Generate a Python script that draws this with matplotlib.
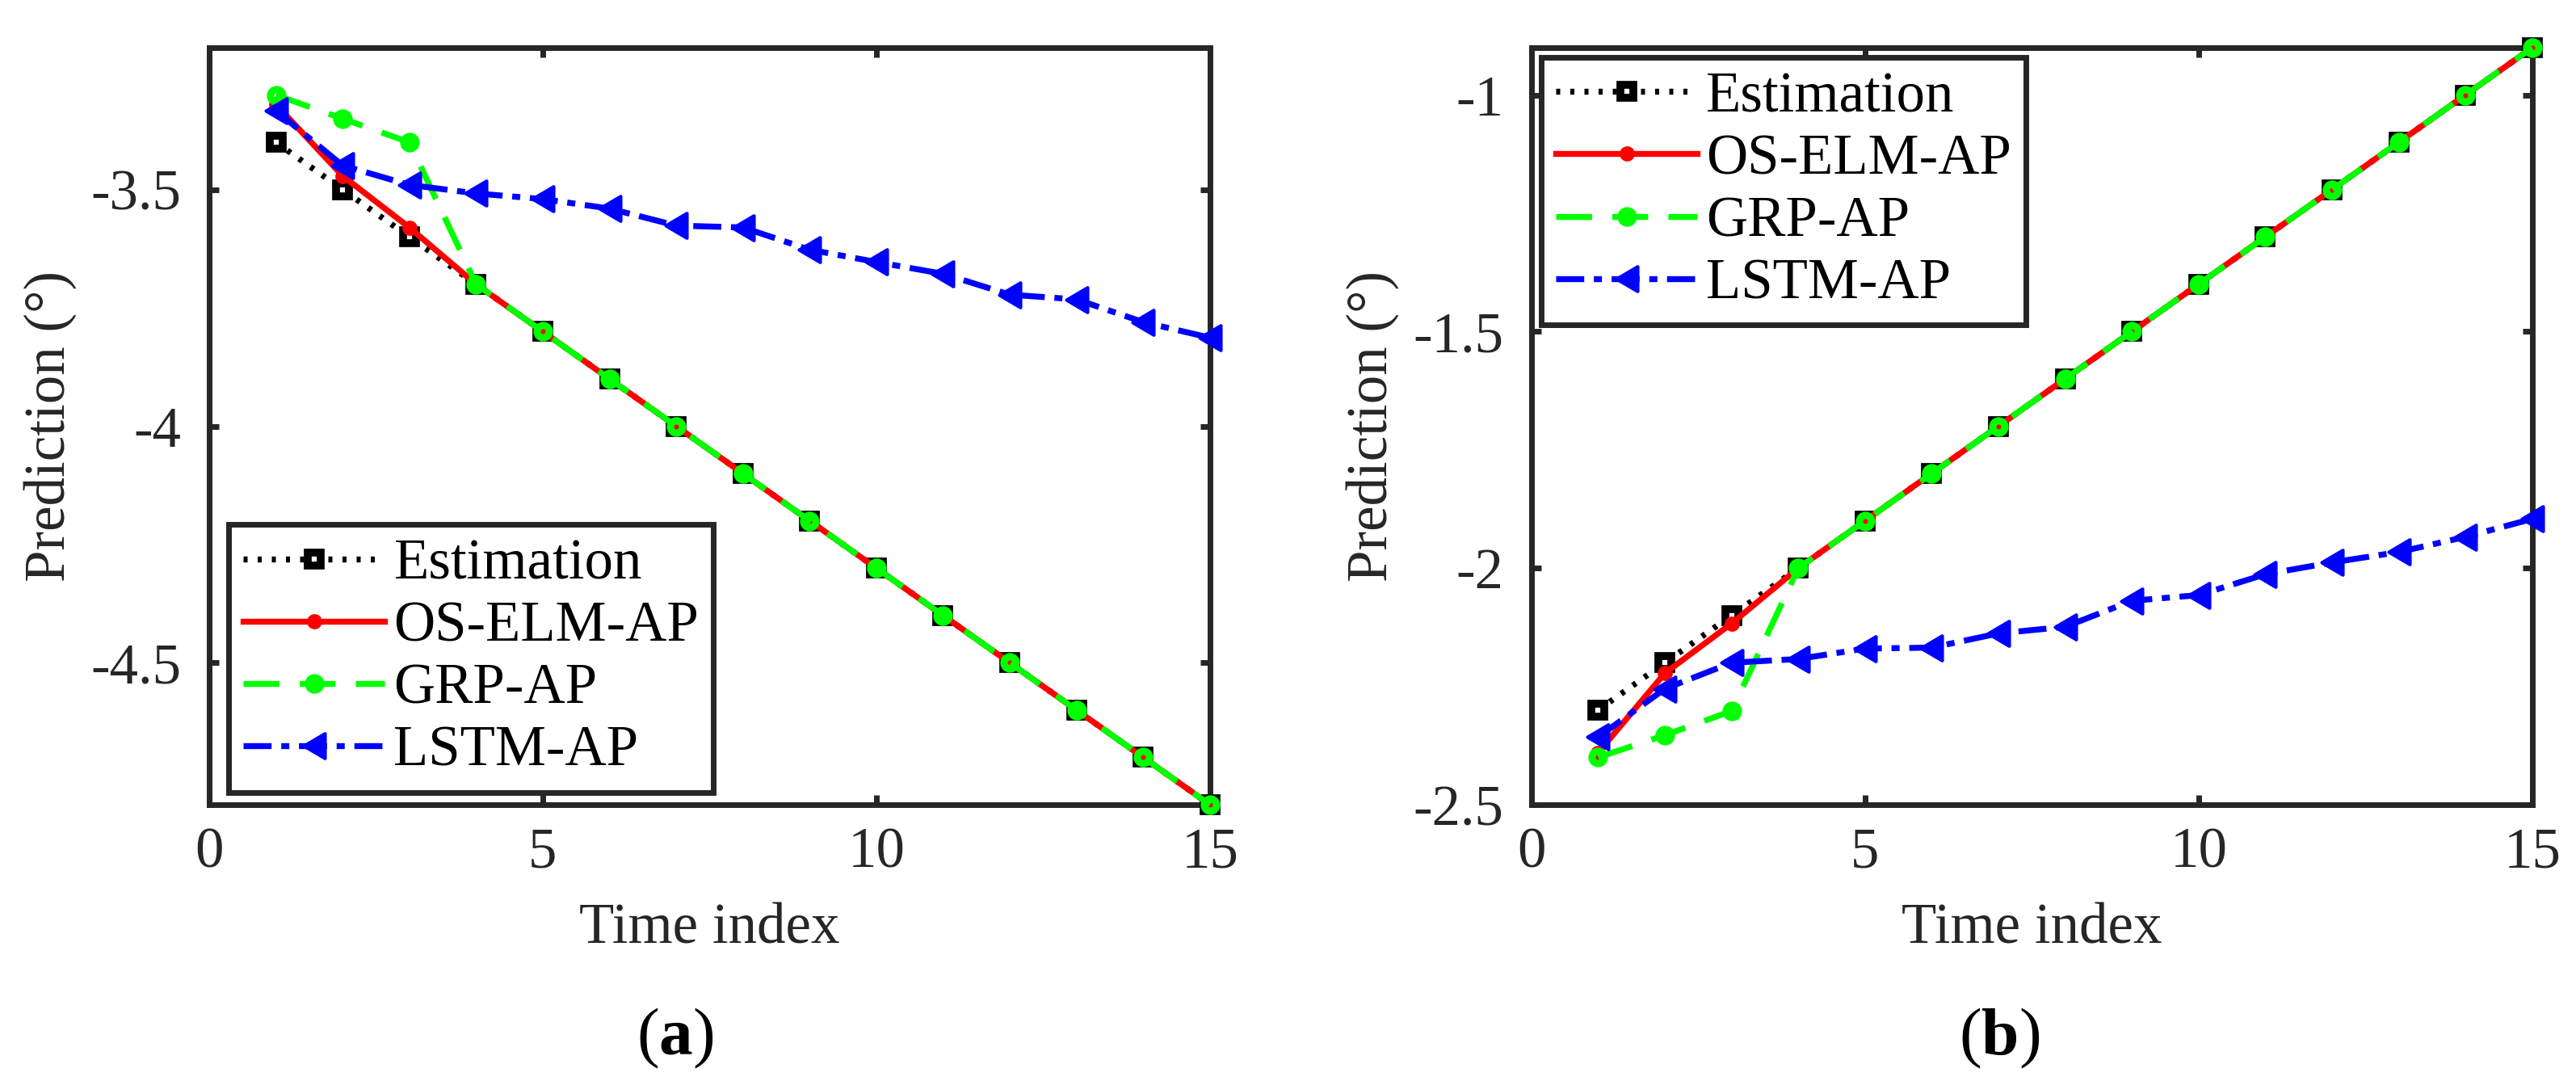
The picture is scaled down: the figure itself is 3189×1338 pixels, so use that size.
import matplotlib
matplotlib.use("Agg")
import matplotlib.pyplot as plt
from matplotlib.path import Path

plt.rcParams["font.family"] = ["Liberation Serif", "DejaVu Serif"]
plt.rcParams["mathtext.fontset"] = "custom"
plt.rcParams["mathtext.rm"] = "Liberation Serif"
plt.rcParams["mathtext.bf"] = "Liberation Serif:bold"
plt.rcParams["axes.unicode_minus"] = False
plt.rcParams["lines.scale_dashes"] = False

# ---- data ----
t = [1, 2, 3, 4, 5, 6, 7, 8, 9, 10, 11, 12, 13, 14, 15]

est_a = [-3.4, -3.5, -3.6, -3.7, -3.8, -3.9, -4.0, -4.1, -4.2, -4.3, -4.4, -4.5, -4.6, -4.7, -4.8]
oselm_a = [-3.32, -3.471, -3.58, -3.7, -3.8, -3.9, -4.0, -4.1, -4.2, -4.3, -4.4, -4.5, -4.6, -4.7, -4.8]
grp_a = [-3.3, -3.35, -3.4, -3.7, -3.8, -3.9, -4.0, -4.1, -4.2, -4.3, -4.4, -4.5, -4.6, -4.7, -4.8]
lstm_a = [-3.333, -3.449, -3.49, -3.508, -3.52, -3.54, -3.576, -3.58, -3.627, -3.653,
          -3.678, -3.722, -3.732, -3.78, -3.813]

est_b = [-2.3, -2.2, -2.1, -2.0, -1.9, -1.8, -1.7, -1.6, -1.5, -1.4, -1.3, -1.2, -1.1, -1.0, -0.9]
oselm_b = [-2.39, -2.222, -2.117, -2.0, -1.9, -1.8, -1.7, -1.6, -1.5, -1.4, -1.3, -1.2, -1.1, -1.0, -0.9]
grp_b = [-2.4, -2.353, -2.302, -2.0, -1.9, -1.8, -1.7, -1.6, -1.5, -1.4, -1.3, -1.2, -1.1, -1.0, -0.9]
lstm_b = [-2.357, -2.255, -2.2, -2.192, -2.17, -2.168, -2.138, -2.124, -2.069, -2.057,
          -2.013, -1.988, -1.966, -1.934, -1.896]

labels = ["Estimation", "OS-ELM-AP", "GRP-AP", "LSTM-AP"]
xticks = [0, 5, 10, 15]
yticks_a = [-4.5, -4, -3.5]
yticks_b = [-2.5, -2, -1.5, -1]

# ---- style ----
DARK = "#262626"
FS = 51
LW = 5.3
tri = Path([(-0.85, 0), (0.85, -1), (0.85, 1), (-0.85, 0)],
           [Path.MOVETO, Path.LINETO, Path.LINETO, Path.CLOSEPOLY])


def draw(ax, est, oselm, grp, lstm, ylim, yticks, legend_loc, anchor):
    kw = dict(lw=LW, clip_on=False, zorder=3)
    ax.plot(t, est, color="k", dashes=(3.6, 9), marker="s", ms=12, mew=7,
            mfc="white", mec="k", label=labels[0], **kw)
    ax.plot(t, oselm, color="#FF0000", ls="-", marker="o", ms=8.5, mew=5,
            mfc="#FF0000", mec="#FF0000", label=labels[1], **kw)
    ax.plot(t, grp, color="#00FF00", dashes=(32, 18), marker="o", ms=11, mew=6.5,
            mfc="none", mec="#00FF00", label=labels[2], **kw)
    ax.plot(t, lstm, color="#0000FF", dashes=(25, 8.6, 7.2, 8.6), marker=tri, ms=22,
            mew=3, mfc="#0000FF", mec="#0000FF", label=labels[3], **kw)

    ax.set_xlim(0, 15)
    ax.set_ylim(*ylim)
    ax.set_xticks(xticks)
    ax.set_xticklabels([str(v) for v in xticks])
    ax.set_yticks(yticks)
    ax.set_yticklabels([f"{v:g}" for v in yticks])
    for s in ax.spines.values():
        s.set_linewidth(5)
        s.set_color(DARK)
    ax.tick_params(direction="in", top=True, right=True, length=8.6, width=5,
                   color=DARK, labelcolor=DARK, labelsize=FS)
    ax.tick_params(axis="x", pad=20)
    ax.tick_params(axis="y", pad=25)

    ax.set_xlabel("Time index", fontsize=FS, color=DARK, va="center")
    ax.xaxis.set_label_coords(0.5, -0.164)
    ax.set_ylabel("Prediction (°)", fontsize=FS, color=DARK, va="center")
    ax.yaxis.set_label_coords(-0.159, 0.5)

    leg = ax.legend(loc=legend_loc, bbox_to_anchor=anchor, borderaxespad=0,
                    fontsize=FS, handlelength=2.47, handletextpad=0.16,
                    borderpad=0.25, labelspacing=0.17, fancybox=False,
                    framealpha=1, edgecolor=DARK)
    leg.get_frame().set_linewidth(5)


fig = plt.figure(figsize=(31.89, 13.38), dpi=100)
ax_a = fig.add_axes([0.0812, 0.2556, 0.3885, 0.7003])
ax_b = fig.add_axes([0.5945, 0.2556, 0.3885, 0.7003])

draw(ax_a, est_a, oselm_a, grp_a, lstm_a, (-4.8, -3.2), yticks_a,
     "lower left", (0.0198, 0.0165))
draw(ax_b, est_b, oselm_b, grp_b, lstm_b, (-2.5, -0.9), yticks_b,
     "upper left", (0.0101, 0.9877))

fig.text(836 / 3189, 1 - 1285 / 1338, r"($\mathbf{a}$)", fontsize=60,
         ha="center", va="center")
fig.text(2475 / 3189, 1 - 1285 / 1338, r"($\mathbf{b}$)", fontsize=60,
         ha="center", va="center")

fig.savefig("out.png", dpi=100)
